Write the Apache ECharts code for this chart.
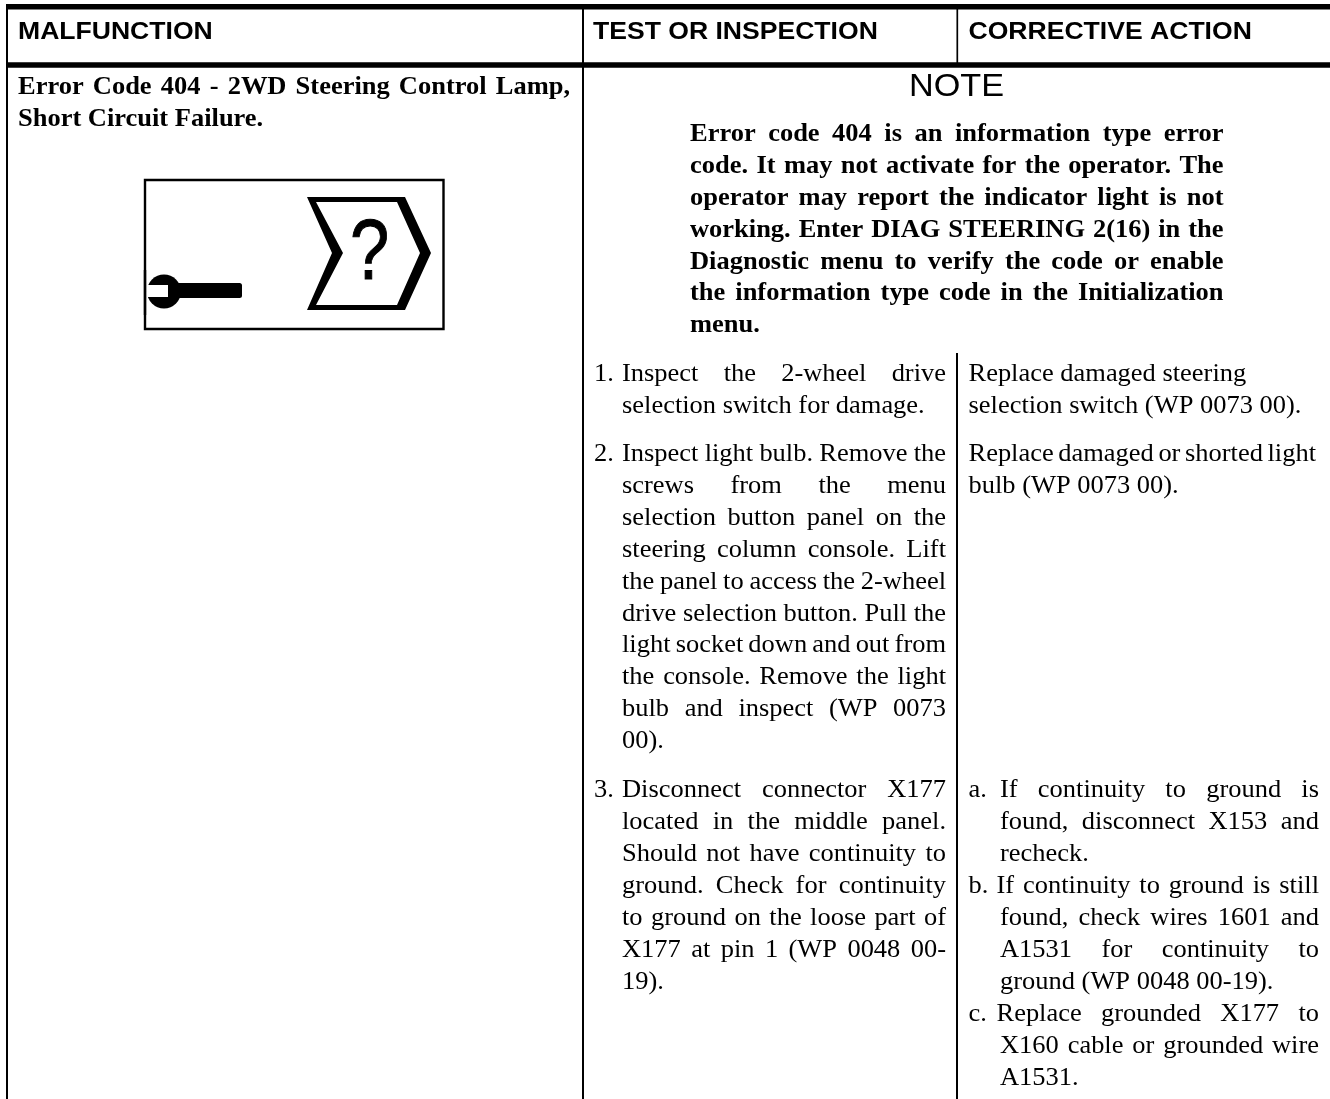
<!DOCTYPE html>
<html><head><meta charset="utf-8">
<style>html,body{margin:0;padding:0;background:#fff}#c{width:1330px;height:1099px}</style>
<script src="https://cdn.jsdelivr.net/npm/echarts@6/dist/echarts.min.js"></script>
</head><body><div id="c"></div>
<script>
const headers = ['MALFUNCTION','TEST OR INSPECTION','CORRECTIVE ACTION'];
const noteTitle = 'NOTE';
const malfunctionLines = ['Error Code 404 - 2WD Steering Control Lamp,','Short Circuit Failure.'];
const noteLines = ['Error code 404 is an information type error','code. It may not activate for the operator. The','operator may report the indicator light is not','working. Enter DIAG STEERING 2(16) in the','Diagnostic menu to verify the code or enable','the information type code in the Initialization','menu.'];
const test1 = ['Inspect the 2-wheel drive','selection switch for damage.'];
const test2 = ['Inspect light bulb. Remove the','screws from the menu','selection button panel on the','steering column console. Lift','the panel to access the 2-wheel','drive selection button. Pull the','light socket down and out from','the console. Remove the light','bulb and inspect (WP 0073','00).'];
const test3 = ['Disconnect connector X177','located in the middle panel.','Should not have continuity to','ground. Check for continuity','to ground on the loose part of','X177 at pin 1 (WP 0048 00-','19).'];
const action1 = ['Replace damaged steering','selection switch (WP 0073 00).'];
const action2 = ['Replace damaged or shorted light','bulb (WP 0073 00).'];
const actionA = ['If continuity to ground is','found, disconnect X153 and','recheck.'];
const actionB = ['If continuity to ground is still','found, check wires 1601 and','A1531 for continuity to','ground (WP 0048 00-19).'];
const actionC = ['Replace grounded X177 to','X160 cable or grounded wire','A1531.'];

const SERIF='"Liberation Serif"', SANS='"Liberation Sans"';
const BODY=24.5, LEAD=31.9, SX=1.08;
const ctx=document.createElement('canvas').getContext('2d');
const els=[];
function word(s,x,base,size,fam,weight,sx,stroke){
  const style={text:s,x:0,y:0,fill:'#000',font:(weight||'normal')+' '+size+'px '+fam,textAlign:'left',verticalAlign:'middle'};
  if(stroke){style.stroke='#000';style.lineWidth=stroke;}
  els.push({type:'text',x:x,y:base-size*0.29,scaleX:sx||SX,silent:true,style});
}
function line(s,x0,x1,base,size,fam,weight){
  ctx.font=(weight||'normal')+' '+size+'px '+fam;
  const w=s.split(' ');
  if(x1==null||w.length<2){word(s,x0,base,size,fam,weight);return;}
  const tot=w.reduce((a,t)=>a+ctx.measureText(t).width*SX,0);
  const gap=(x1-x0-tot)/(w.length-1);
  let x=x0;
  w.forEach(t=>{word(t,x,base,size,fam,weight);x+=ctx.measureText(t).width*SX+gap;});
}
function block(lines,x0,x1,base,opts){
  opts=opts||{};
  lines.forEach((s,i)=>{
    const last=i===lines.length-1;
    const first=(i===0&&opts.firstX!=null)?opts.firstX:x0;
    line(s,first,last?null:x1,base+i*(opts.lead||LEAD),opts.size||BODY,opts.fam||SERIF,opts.weight);
  });
}
function rule(x1,y1,x2,y2,w){els.push({type:'line',silent:true,shape:{x1,y1,x2,y2},style:{stroke:'#000',lineWidth:w}});}
// frame
rule(6,6.7,1330,6.7,5.4);
rule(6,65,1330,65,5.6);
rule(7,4,7,1099,2);
rule(583,4,583,1099,2);
rule(957.3,4,957.3,64,1.7);
rule(957,353,957,1099,2);
// headers
const HS=24.6;
word(headers[0],18,39.7,HS,SANS,'bold');
word(headers[1],593,39.7,HS,SANS,'bold');
word(headers[2],968.5,39.7,HS,SANS,'bold');
// left cell
block(malfunctionLines,18,570,94.5,{weight:'bold',lead:32});
// icon
els.push({type:'rect',silent:true,shape:{x:145,y:180,width:298.5,height:149},style:{fill:'#fff',stroke:'#000',lineWidth:2.4}});
els.push({type:'polygon',silent:true,shape:{points:[[307,197],[405,197],[431,253],[405,310],[307,310],[332,253]]},style:{fill:'#000'}});
els.push({type:'polygon',silent:true,shape:{points:[[316,202],[397,202],[420,253],[397,305],[316,305],[343,253]]},style:{fill:'#fff'}});
word('?',350,280,86,SANS,'normal',0.82,1);
els.push({type:'rect',silent:true,shape:{x:175,y:283,width:67,height:15,r:2.5},style:{fill:'#000'}});
els.push({type:'circle',silent:true,shape:{cx:164,cy:291.5,r:17},style:{fill:'#000'}});
els.push({type:'rect',silent:true,shape:{x:147,y:285,width:21,height:12},style:{fill:'#fff'}});
els.push({type:'rect',silent:true,shape:{x:143.8,y:270,width:2.4,height:45},style:{fill:'#000'}});
// note
word(noteTitle,909,96,31.7,SANS);
block(noteLines,690,1223.5,141.7,{weight:'bold'});
// test column
const T0=622,T1=946,N=594;
word('1.',N,381.7,BODY,SERIF); block(test1,T0,T1,381.7);
word('2.',N,461.7,BODY,SERIF); block(test2,T0,T1,461.7);
word('3.',N,798,BODY,SERIF); block(test3,T0,T1,798);
// action column
const A0=968.5,A1=1319,AI=1000;
action1.forEach((s,i)=>line(s,A0,null,381.7+i*LEAD,BODY,SERIF));
block(action2,A0,1316,461.7);
word('a.',A0,798,BODY,SERIF); block(actionA,AI,A1,798);
word('b.',A0,893.7,BODY,SERIF); block(actionB,AI,A1,893.7,{firstX:996.5});
word('c.',A0,1022,BODY,SERIF); block(actionC,AI,A1,1022,{firstX:996.5});

const chart=echarts.init(document.getElementById('c'),null,{renderer:'canvas'});
chart.setOption({animation:false,backgroundColor:'#fff',graphic:{elements:els}});
</script></body></html>
